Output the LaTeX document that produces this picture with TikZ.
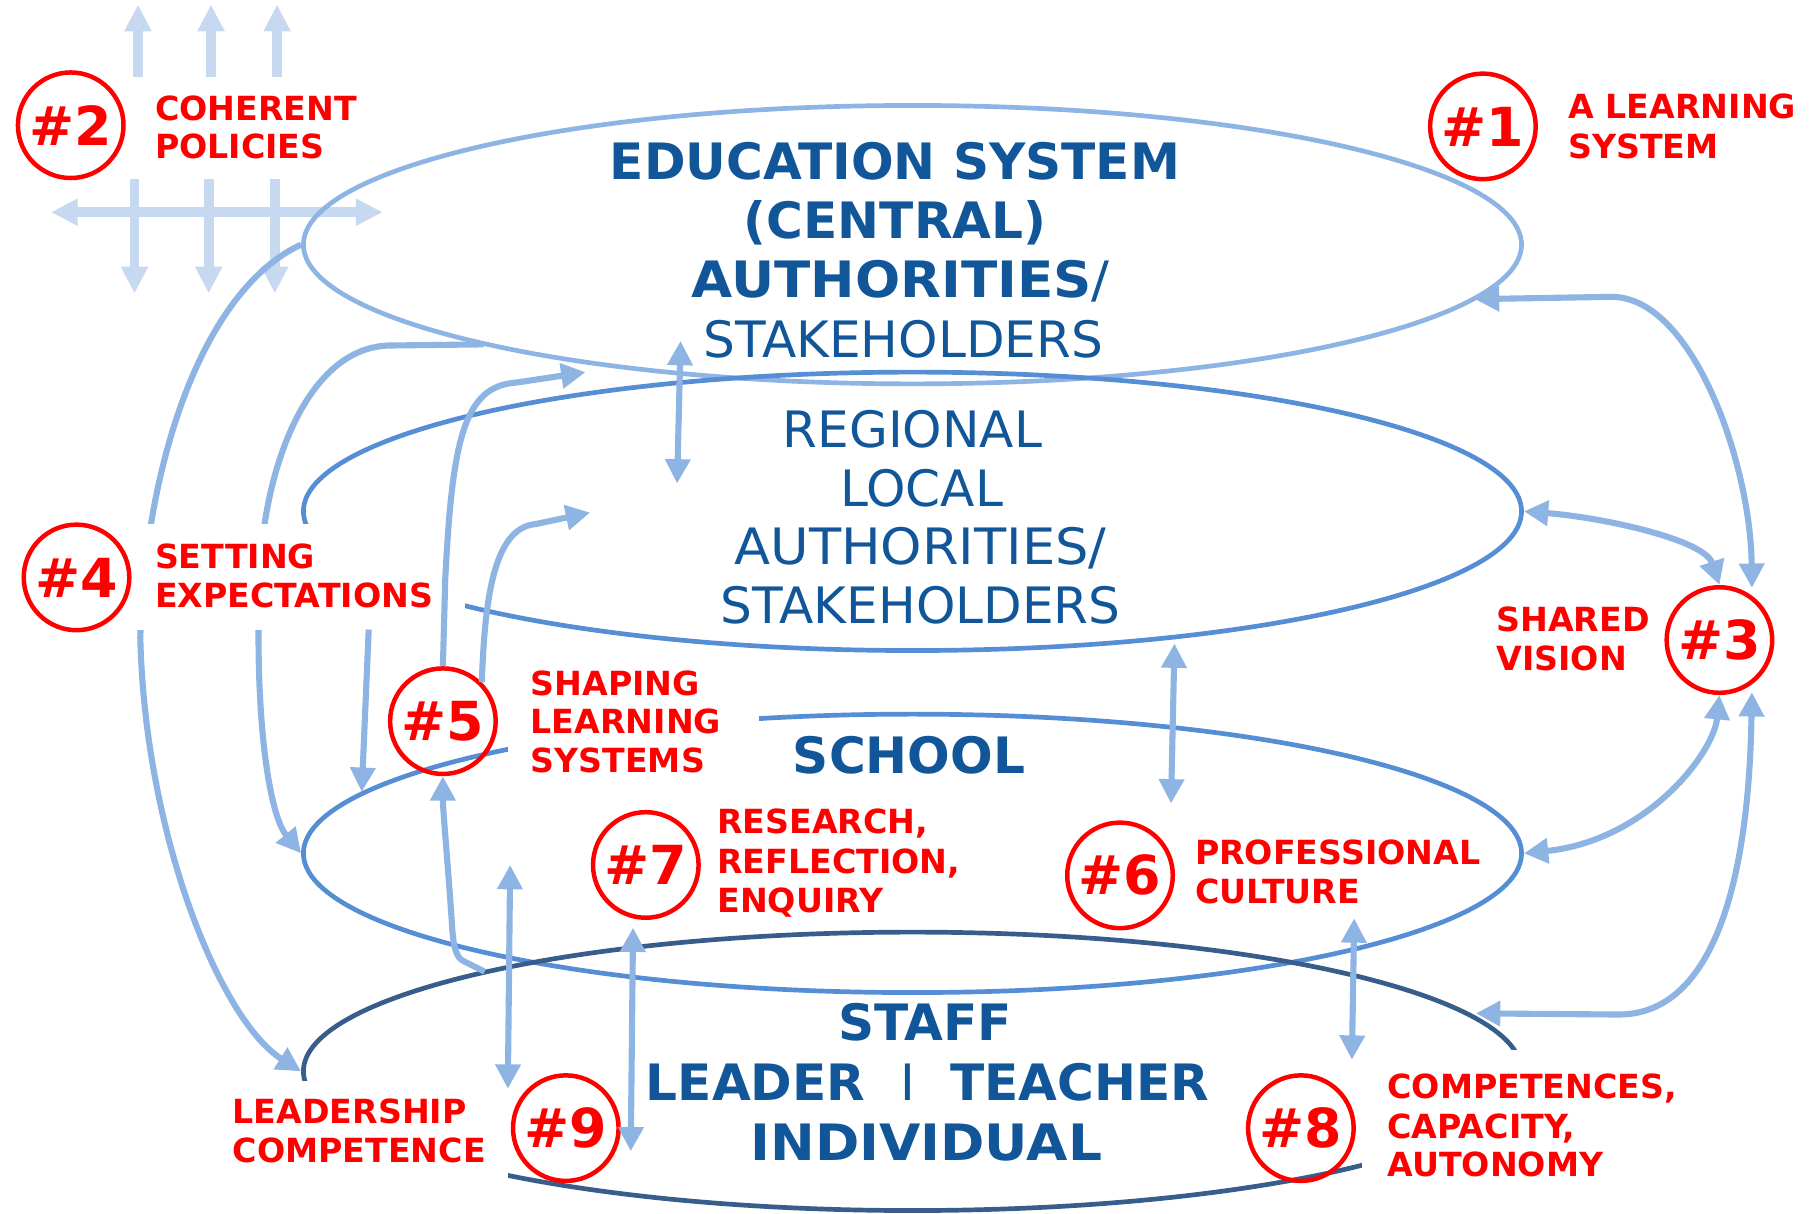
\documentclass[tikz,border=0pt]{standalone}
\usepackage{fontspec}
\usepackage{graphicx}
\setmainfont{DejaVu Sans}
\usetikzlibrary{arrows.meta,shapes.geometric}
\definecolor{arrowblue}{HTML}{8EB4E3}
\definecolor{midblue}{HTML}{558ED5}
\definecolor{deepline}{HTML}{385D8A}
\definecolor{gridblue}{HTML}{C6D9F1}
\definecolor{textblue}{HTML}{12569A}
\definecolor{labelred}{HTML}{FF0000}
\newcommand\lblfont{\fontsize{8.15}{9.5}\selectfont\bfseries}
\newcommand\numfont{\fontsize{13.2}{15}\selectfont\bfseries}
\newcommand\headfont{\fontsize{12.3}{14.6}\selectfont}
\begin{document}
\begin{tikzpicture}[x=0.01cm,y=-0.01cm,
  ring/.style={circle, draw=labelred, line width=1.1pt, minimum size=0.91cm, inner sep=0pt, text=labelred, font=\numfont},
  lbl/.style={anchor=base west, inner sep=0pt, text=labelred, font=\lblfont},
  headb/.style={anchor=base, inner sep=0pt, text=textblue, font=\headfont\bfseries},
  headr/.style={anchor=base, inner sep=0pt, text=textblue, font=\headfont},
  layer/.style={ellipse, minimum width=10.5cm, minimum height=2.4cm, inner sep=0pt, line width=1.15pt},
  conn/.style={draw=arrowblue, line width=1.5pt, -{Triangle[length=0.21cm,width=0.21cm]}},
  biconn/.style={draw=arrowblue, line width=1.5pt, {Triangle[length=0.21cm,width=0.21cm]}-{Triangle[length=0.21cm,width=0.21cm]}},
  gridarr/.style={draw=gridblue, line width=2.4pt, -{Triangle[length=0.23cm,width=0.22cm]}},
  gridbi/.style={draw=gridblue, line width=2.4pt, {Triangle[length=0.23cm,width=0.22cm]}-{Triangle[length=0.23cm,width=0.22cm]}},
]
\useasboundingbox (0,0) rectangle (1568,1047);

% coherent-policies grid
\foreach \xu/\xd in {119/116, 182/180, 239/237}{
  \draw[gridarr] (\xu,66) -- (\xu,4);
  \draw[gridarr] (\xd,154) -- (\xd,253);
}
\draw[gridbi] (44,183) -- (330,183);

% layers
\node[layer, draw=arrowblue] (edu) at (787,211) {};
\node[layer, draw=midblue] (reg) at (787,441) {};
\node[layer, draw=midblue] (sch) at (787,736) {};
\node[layer, draw=deepline] (stf) at (787,924) {};

% label backgrounds (hide lines)
\fill[white] (438,574) rectangle (655,672);
\fill[white] (190,932) rectangle (438,1047);
\fill[white] (1175,906) rectangle (1450,1047);

% coordinates
\coordinate (bstart) at (417,297);
\coordinate (cstart) at (318,543);
\coordinate (cend) at (312,683);
\coordinate (dend) at (505,321);
\coordinate (eend) at (509,442);
\coordinate (kstart) at (418,838);
\coordinate (ftop) at (587,294);
\coordinate (fbot) at (584,417);
\coordinate (gtop) at (1013,555);
\coordinate (gbot) at (1010,693);
\coordinate (htop) at (1168,792);
\coordinate (hbot) at (1166,914);
\coordinate (itop) at (440,746);
\coordinate (ibot) at (438,939);
\coordinate (jtop) at (546,800);
\coordinate (jbot) at (544,993);
\coordinate (mstart) at (1272,258);
\coordinate (mend) at (1511,507);
\coordinate (pstart) at (1511,597);
\coordinate (pend) at (1273,874);

% long left arcs
\draw[conn] (edu.west) .. controls (175,250) and (125,400) .. (121,550) .. controls (125,720) and (190,880) .. (stf.west);
\draw[conn] (bstart) -- (335,298) .. controls (270,300) and (232,390) .. (225,480) .. controls (218,600) and (230,700) .. (sch.west);

\fill[white] (12,452) rectangle (401,543);

% circles
\node[ring] (c1) at (1279,109) {\#1};
\node[ring] (c2) at (61,108) {\#2};
\node[ring] (c3) at (1483,552) {\#3};
\node[ring] (c4) at (66,498) {\#4};
\node[ring] (c5) at (382,622) {\#5};
\node[ring] (c6) at (966,755) {\#6};
\node[ring] (c7) at (557,746) {\#7};
\node[ring] (c8) at (1122,973) {\#8};
\node[ring] (c9) at (488,973) {\#9};

% other connectors
\draw[conn] (cstart) -- (cend);
\draw[conn] (c5.north) -- (384,500) .. controls (390,380) and (400,333) .. (445,330) -- (dend);
\draw[conn] (c5.north east) .. controls (418,520) and (425,455) .. (462,452) -- (eend);
\draw[conn] (kstart) -- (400,829) .. controls (393,826) and (391,815) .. (390,800) .. controls (386,740) and (382,700) .. (c5.south);
\draw[biconn] (ftop) -- (fbot);
\draw[biconn] (gtop) -- (gbot);
\draw[biconn] (htop) -- (hbot);
\draw[biconn] (itop) -- (ibot);
\draw[biconn] (jtop) -- (jbot);
\draw[biconn] (mstart) -- (1390,256) .. controls (1460,256) and (1510,400) .. (mend);
\draw[biconn] (reg.east) .. controls (1380,446) and (1470,465) .. (c3.north);
\draw[biconn] (c3.south) .. controls (1478,650) and (1420,725) .. (sch.east);
\draw[biconn] (pstart) .. controls (1508,780) and (1470,876) .. (1395,875) -- (pend);

% red labels
\node[lbl] (l2a) at (133,104) {COHERENT};
\node[lbl] (l2b) at (133,137) {POLICIES};
\node[lbl] (l1a) at (1352,102) {A LEARNING};
\node[lbl] (l1b) at (1352,137) {SYSTEM};
\node[lbl] (l4a) at (133,490) {SETTING};
\node[lbl] (l4b) at (133,524) {EXPECTATIONS};
\node[lbl] (l5a) at (457,600) {SHAPING};
\node[lbl] (l5b) at (457,633) {LEARNING};
\node[lbl] (l5c) at (457,666) {SYSTEMS};
\node[lbl] (l3a) at (1290,545) {SHARED};
\node[lbl] (l3b) at (1290,578) {VISION};
\node[lbl] (l7a) at (618,719) {RESEARCH,};
\node[lbl] (l7b) at (618,753) {REFLECTION,};
\node[lbl] (l7c) at (618,787) {ENQUIRY};
\node[lbl] (l6a) at (1030,746) {PROFESSIONAL};
\node[lbl] (l6b) at (1030,779) {CULTURE};
\node[lbl] (l9a) at (200,969) {LEADERSHIP};
\node[lbl] (l9b) at (200,1003) {COMPETENCE};
\node[lbl] (l8a) at (1196,947) {COMPETENCES,};
\node[lbl] (l8b) at (1196,982) {CAPACITY,};
\node[lbl] (l8c) at (1196,1015) {AUTONOMY};

% layer texts
\node[headb] (e1) at (772,155) {EDUCATION SYSTEM};
\node[headb] (e2) at (772,206) {(CENTRAL)};
\node[headb] (e3) at (777,257) {\scalebox{1.06}[1]{AUTHORITIES{\mdseries/}}};
\node[headr] (e4) at (779,308) {STAKEHOLDERS};
\node[headr] (r1) at (787,386) {REGIONAL};
\node[headr] (r2) at (795,437) {LOCAL};
\node[headr] (r3) at (794,487) {\scalebox{1.05}[1]{AUTHORITIES/}};
\node[headr] (r4) at (794,538) {STAKEHOLDERS};
\node[headb] (s1) at (784,667) {SCHOOL};
\node[headb] (t1) at (798,897) {STAFF};
\node[headb] (t2) at (800,949) {LEADER\hspace{0.7em}{\mdseries I}\hspace{0.7em}TEACHER};
\node[headb] (t3) at (799,1001) {\scalebox{1.065}[1]{INDIVIDUAL}};
\end{tikzpicture}
\end{document}
